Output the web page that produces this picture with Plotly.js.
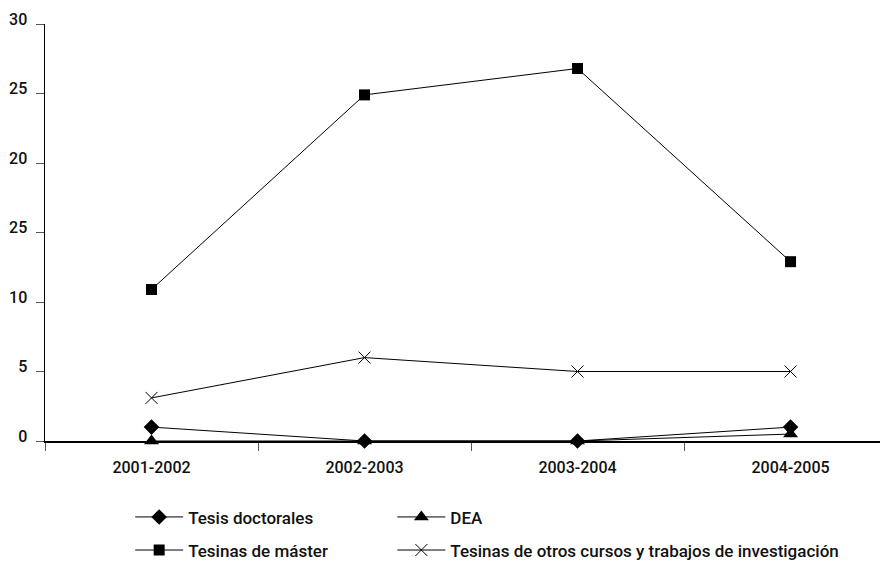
<!DOCTYPE html>
<html>
<head>
<meta charset="utf-8">
<script src="https://cdn.plot.ly/plotly-3.0.1.min.js"></script>
<style>html,body{margin:0;padding:0;background:#fff;}</style>
</head>
<body>
<div id="chart" style="width:886px;height:569px;"></div>
<script>
const categories = ["2001-2002", "2002-2003", "2003-2004", "2004-2005"];
const tesisDoctorales = [1, 0, 0, 1];
const dea = [0, 0, 0, 0.5];
const tesinasMaster = [10.9, 24.9, 26.8, 12.9];
const tesinasOtros = [3.1, 6, 5, 5];
const yTickVals = [0, 5, 10, 15, 20, 25, 30];
const yTickText = ["0", "5", "10", "25", "20", "25", "30"];

const lineStyle = {color: "#000", width: 1};
function tr(name, y, symbol, size, legend, group) {
  return {
    type: "scatter", mode: "lines+markers", name: name, x: categories, y: y,
    line: lineStyle, cliponaxis: false, legend: legend, legendgroup: group,
    marker: {symbol: symbol, size: size, color: "#000", line: {color: "#000", width: symbol === "x-thin-open" ? 1 : 0}}
  };
}
const data = [
  tr("Tesis doctorales", tesisDoctorales, "diamond", 12, "legend", "a"),
  tr("Tesinas de máster", tesinasMaster, "square", 11, "legend", "b"),
  tr("DEA", dea, "triangle-up", 13, "legend2", "c"),
  tr("Tesinas de otros cursos y trabajos de investigación", tesinasOtros, "x-thin-open", 12, "legend2", "d")
];
const tickFont = {family: "Roboto, 'DejaVu Sans', sans-serif", size: 16, color: "#111", weight: 500};
const legendFont = {family: "Roboto, 'DejaVu Sans', sans-serif", size: 17, color: "#111", weight: 500};
const legendBase = {
  orientation: "v", yanchor: "top", y: -0.14, bgcolor: "rgba(0,0,0,0)",
  font: legendFont, tracegroupgap: 8, traceorder: "grouped", itemwidth: 48
};
const layout = {
  width: 886, height: 569,
  margin: {l: 45, r: 6, t: 24, b: 128, autoexpand: false},
  paper_bgcolor: "#fff", plot_bgcolor: "#fff",
  font: tickFont,
  showlegend: true,
  xaxis: {
    type: "category", range: [-0.5, 3.42], automargin: false,
    showgrid: false, zeroline: false,
    showline: true, linecolor: "#000", linewidth: 1.5,
    ticks: "outside", tickson: "boundaries", ticklen: 8, tickcolor: "#555", tickwidth: 1,
    ticklabelstandoff: 11,
    tickfont: tickFont
  },
  yaxis: {
    range: [0, 30], tickvals: yTickVals, ticktext: yTickText, automargin: false,
    showgrid: false, zeroline: false,
    showline: true, linecolor: "#000", linewidth: 1.5,
    ticks: "outside", ticklen: 8, tickcolor: "#555", tickwidth: 1,
    ticklabelshift: -5, ticklabelstandoff: 5,
    tickfont: tickFont
  },
  legend: Object.assign({}, legendBase, {x: 0.102, xanchor: "left"}),
  legend2: Object.assign({}, legendBase, {x: 0.416, xanchor: "left"})
};
Plotly.newPlot("chart", data, layout, {displayModeBar: false, staticPlot: true});
</script>
</body>
</html>
